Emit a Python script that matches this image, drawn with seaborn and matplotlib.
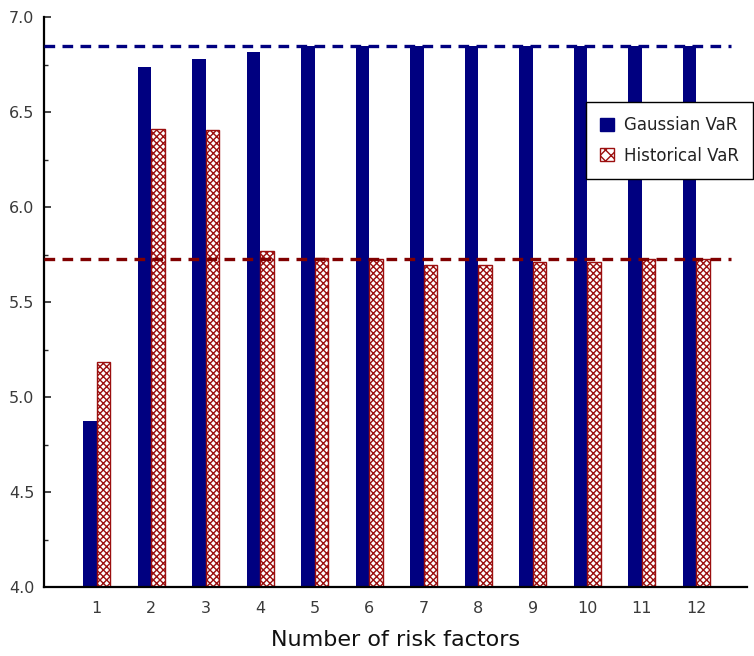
import matplotlib
matplotlib.use("Agg")
import matplotlib.pyplot as plt
from matplotlib.patches import Patch
from matplotlib.ticker import MultipleLocator, FormatStrFormatter
import numpy as np
import pandas as pd
import seaborn as sns

# Number of risk factors and the resulting VaR estimates
factors = ["1", "2", "3", "4", "5", "6", "7", "8", "9", "10", "11", "12"]
gaussian_var = [4.874, 6.736, 6.779, 6.814, 6.845, 6.845, 6.845, 6.845, 6.845, 6.845, 6.845, 6.845]
historical_var = [5.182, 6.41, 6.405, 5.770, 5.733, 5.728, 5.693, 5.693, 5.709, 5.709, 5.725, 5.728]

# Full-model reference levels
gaussian_full = 6.845
historical_full = 5.726

series_names = ["Gaussian VaR", "Historical VaR"]
navy = "#000080"
maroon = "#800000"
hatch_red = "#9b0f0f"

df = pd.DataFrame({
    "factors": factors * 2,
    "VaR": gaussian_var + historical_var,
    "method": [series_names[0]] * len(factors) + [series_names[1]] * len(factors),
})

sns.set_style("white")
plt.rcParams["font.family"] = ["DejaVu Sans"]
plt.rcParams["hatch.linewidth"] = 1.0

W, H = 754, 656
fig = plt.figure(figsize=(W / 100, H / 100), dpi=100)
ax = fig.add_axes([44 / W, 69 / H, (747 - 44) / W, (587 - 17) / H])

sns.barplot(data=df, x="factors", y="VaR", hue="method", order=factors,
            hue_order=series_names, palette=[navy, "white"], width=0.5,
            saturation=1, dodge=True, legend=False, ax=ax, linewidth=0)

# Historical bars: white with a red cross-hatch
for bar in ax.containers[1]:
    bar.set_facecolor("white")
    bar.set_edgecolor(hatch_red)
    bar.set_hatch("xxxxx")
    bar.set_linewidth(1.0)

ax.set_ylim(4.0, 7.0)
ax.set_xlim(-0.97, 11.93)

# Dashed reference lines
line_end = (11.63 + 0.97) / (11.93 + 0.97)
ax.axhline(gaussian_full, xmin=0, xmax=line_end, color=navy, lw=2.4,
           linestyle=(0, (3.2, 2.2)), zorder=5)
ax.axhline(historical_full, xmin=0, xmax=line_end, color=maroon, lw=2.4,
           linestyle=(0, (3.2, 2.2)), zorder=5)

for side in ("top", "right"):
    ax.spines[side].set_visible(False)
for side in ("left", "bottom"):
    ax.spines[side].set_linewidth(1.6)
    ax.spines[side].set_color("black")

ax.yaxis.set_major_locator(MultipleLocator(0.5))
ax.yaxis.set_minor_locator(MultipleLocator(0.25))
ax.yaxis.set_major_formatter(FormatStrFormatter("%.1f"))
ax.tick_params(axis="y", which="major", direction="in", length=5, width=1.2,
               pad=7, labelsize=11.5, labelcolor="#3a3a3a", left=True)
ax.tick_params(axis="y", which="minor", direction="in", length=3, width=1.0, left=True)
ax.tick_params(axis="x", length=0, pad=10, labelsize=11.5, labelcolor="#3a3a3a")

ax.set_ylabel("")
ax.set_xlabel("Number of risk factors", fontsize=16, labelpad=10, color="#111111")

handles = [
    Patch(facecolor=navy, edgecolor=navy, label=series_names[0]),
    Patch(facecolor="white", edgecolor=hatch_red, hatch="xxx", label=series_names[1]),
]
leg = fig.legend(handles=handles, loc="upper right",
                 bbox_to_anchor=(753 / W, 1 - 102 / H), bbox_transform=fig.transFigure,
                 frameon=True, fancybox=False, framealpha=1, fontsize=12,
                 borderpad=0.85, handlelength=0.8, handleheight=0.8,
                 handletextpad=0.6, labelspacing=0.75, borderaxespad=0)
leg.get_frame().set_edgecolor("black")
leg.get_frame().set_linewidth(1.0)
leg.set_zorder(10)
for t in leg.get_texts():
    t.set_color("#222222")

fig.savefig("out.png", dpi=100)
